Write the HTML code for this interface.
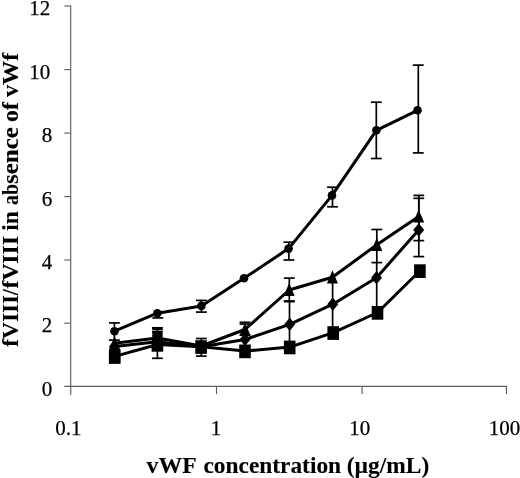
<!DOCTYPE html>
<html><head><meta charset="utf-8"><title>chart</title>
<style>html,body{margin:0;padding:0;background:#fff;overflow:hidden}svg{display:block}text{font-family:"Liberation Serif",serif;fill:#000}</style>
</head><body>
<svg width="520" height="478" viewBox="0 0 520 478">
<rect width="520" height="478" fill="#fff"/>
<defs><filter id="soft" x="0" y="0" width="520" height="478" filterUnits="userSpaceOnUse"><feGaussianBlur stdDeviation="0.35"/></filter></defs>
<g filter="url(#soft)">
<g stroke="#606060" stroke-width="1.15" fill="none">
<line x1="70.7" y1="5.4" x2="70.7" y2="395"/>
<line x1="64.3" y1="386.4" x2="507.1" y2="386.4"/>
<line x1="64.3" y1="6.0" x2="70.7" y2="6.0"/>
<line x1="64.3" y1="69.6" x2="70.7" y2="69.6"/>
<line x1="64.3" y1="133.1" x2="70.7" y2="133.1"/>
<line x1="64.3" y1="196.6" x2="70.7" y2="196.6"/>
<line x1="64.3" y1="260.0" x2="70.7" y2="260.0"/>
<line x1="64.3" y1="323.2" x2="70.7" y2="323.2"/>
<line x1="216.5" y1="386.4" x2="216.5" y2="394"/>
<line x1="362.1" y1="386.4" x2="362.1" y2="394"/>
<line x1="506.5" y1="386.4" x2="506.5" y2="394"/>
</g>
<g font-size="21" stroke="#000" stroke-width="0.25">
<text x="50.2" y="15.2" text-anchor="end">12</text>
<text x="50.2" y="78.8" text-anchor="end">10</text>
<text x="52.3" y="142.3" text-anchor="end">8</text>
<text x="52.3" y="205.8" text-anchor="end">6</text>
<text x="52.3" y="269.2" text-anchor="end">4</text>
<text x="52.3" y="332.4" text-anchor="end">2</text>
<text x="52.3" y="395.6" text-anchor="end">0</text>
<text x="68.4" y="435" text-anchor="middle">0.1</text>
<text x="216.0" y="435" text-anchor="middle">1</text>
<text x="359.7" y="435" text-anchor="middle">10</text>
<text x="504.6" y="435" text-anchor="middle">100</text>
</g>
<g font-size="22.3" font-weight="bold" stroke="#000" stroke-width="0.1">
<text x="146.5" y="473" textLength="50.16" lengthAdjust="spacingAndGlyphs">vWF</text>
<text x="203.45" y="473" textLength="137.64" lengthAdjust="spacingAndGlyphs">concentration</text>
<text x="346.73" y="473" textLength="82.57" lengthAdjust="spacingAndGlyphs">(µg/mL)</text>
</g>
<g font-size="22.3" font-weight="bold" stroke="#000" stroke-width="0.1" transform="translate(17.9,346.4) rotate(-90)">
<text x="-0.48" y="0" textLength="24.65" lengthAdjust="spacingAndGlyphs">fV</text>
<text x="24.29" y="0" textLength="27.27" lengthAdjust="spacingAndGlyphs">III</text>
<text x="51.23" y="0" textLength="6.1" lengthAdjust="spacingAndGlyphs">/</text>
<text x="57.92" y="0" textLength="24.96" lengthAdjust="spacingAndGlyphs">fV</text>
<text x="82.69" y="0" textLength="27.52" lengthAdjust="spacingAndGlyphs">III</text>
<text x="115.68" y="0" textLength="19.74" lengthAdjust="spacingAndGlyphs">in</text>
<text x="141.47" y="0" textLength="20.99" lengthAdjust="spacingAndGlyphs">ab</text>
<text x="162.35" y="0" textLength="56.96" lengthAdjust="spacingAndGlyphs">sence</text>
<text x="224.41" y="0" textLength="19.9" lengthAdjust="spacingAndGlyphs">of</text>
<text x="249.39" y="0" textLength="44.25" lengthAdjust="spacingAndGlyphs">vWf</text>
</g>
<g stroke="#000" stroke-width="1.7" fill="none">
<line x1="114.4" y1="322.9" x2="114.4" y2="340.1"/>
<line x1="109.0" y1="322.9" x2="119.8" y2="322.9"/>
<line x1="109.0" y1="340.1" x2="119.8" y2="340.1"/>
<line x1="157.8" y1="309.0" x2="157.8" y2="317.9"/>
<line x1="152.4" y1="317.9" x2="163.2" y2="317.9"/>
<line x1="201.4" y1="300.4" x2="201.4" y2="312.1"/>
<line x1="196.0" y1="300.4" x2="206.8" y2="300.4"/>
<line x1="196.0" y1="312.1" x2="206.8" y2="312.1"/>
<line x1="288.9" y1="242.2" x2="288.9" y2="260.0"/>
<line x1="283.5" y1="242.2" x2="294.3" y2="242.2"/>
<line x1="283.5" y1="260.0" x2="294.3" y2="260.0"/>
<line x1="332.5" y1="187.2" x2="332.5" y2="206.8"/>
<line x1="327.1" y1="187.2" x2="337.9" y2="187.2"/>
<line x1="327.1" y1="206.8" x2="337.9" y2="206.8"/>
<line x1="376.3" y1="102.2" x2="376.3" y2="158.5"/>
<line x1="370.9" y1="102.2" x2="381.7" y2="102.2"/>
<line x1="370.9" y1="158.5" x2="381.7" y2="158.5"/>
<line x1="418.3" y1="65.1" x2="418.3" y2="152.9"/>
<line x1="412.9" y1="65.1" x2="423.7" y2="65.1"/>
<line x1="412.9" y1="152.9" x2="423.7" y2="152.9"/>
<line x1="114.6" y1="340.1" x2="114.6" y2="362.0"/>
<line x1="157.4" y1="327.8" x2="157.4" y2="358.3"/>
<line x1="152.0" y1="327.8" x2="162.8" y2="327.8"/>
<line x1="152.0" y1="358.3" x2="162.8" y2="358.3"/>
<line x1="157.4" y1="331.5" x2="157.4" y2="350.0"/>
<line x1="152.0" y1="331.5" x2="162.8" y2="331.5"/>
<line x1="201.3" y1="338.5" x2="201.3" y2="356.1"/>
<line x1="195.9" y1="338.5" x2="206.7" y2="338.5"/>
<line x1="195.9" y1="356.1" x2="206.7" y2="356.1"/>
<line x1="245.0" y1="322.3" x2="245.0" y2="335.1"/>
<line x1="239.6" y1="322.3" x2="250.4" y2="322.3"/>
<line x1="239.6" y1="335.1" x2="250.4" y2="335.1"/>
<line x1="245.0" y1="324.1" x2="245.0" y2="350.0"/>
<line x1="239.6" y1="324.1" x2="250.4" y2="324.1"/>
<line x1="289.3" y1="278.1" x2="289.3" y2="301.3"/>
<line x1="283.9" y1="278.1" x2="294.7" y2="278.1"/>
<line x1="289.5" y1="301.7" x2="289.5" y2="347.0"/>
<line x1="332.6" y1="277.0" x2="332.6" y2="332.0"/>
<line x1="376.8" y1="229.5" x2="376.8" y2="262.6"/>
<line x1="371.4" y1="229.5" x2="382.2" y2="229.5"/>
<line x1="371.4" y1="262.6" x2="382.2" y2="262.6"/>
<line x1="376.7" y1="262.6" x2="376.7" y2="310.0"/>
<line x1="418.8" y1="195.4" x2="418.8" y2="240.6"/>
<line x1="413.4" y1="195.4" x2="424.2" y2="195.4"/>
<line x1="413.4" y1="240.6" x2="424.2" y2="240.6"/>
<line x1="418.8" y1="198.3" x2="418.8" y2="256.6"/>
<line x1="413.4" y1="198.3" x2="424.2" y2="198.3"/>
<line x1="413.4" y1="256.6" x2="424.2" y2="256.6"/>
</g>
<g stroke="#000" stroke-width="3.0" fill="none" stroke-linejoin="round">
<polyline points="114.5,331.2 157.3,313.2 201.4,305.9 244.0,278.3 288.6,248.6 332.0,195.4 376.4,130.3 417.5,110.3"/>
<polyline points="114.5,343.2 157.3,338.0 201.3,346.0 245.0,329.5 289.2,290.0 332.4,277.3 376.8,244.8 418.7,216.5"/>
<polyline points="114.5,346.6 157.3,341.8 201.3,346.7 245.0,339.5 289.7,324.3 332.8,304.2 376.5,277.7 418.7,229.9"/>
<polyline points="114.8,356.4 157.5,344.5 201.2,346.7 245.1,351.0 289.8,347.1 333.3,332.7 377.6,312.5 420.0,270.8"/>
</g>
<g fill="#000">
<circle cx="114.5" cy="331.2" r="4.3"/>
<circle cx="157.3" cy="313.2" r="4.3"/>
<circle cx="201.4" cy="305.9" r="4.3"/>
<circle cx="244.0" cy="278.3" r="4.3"/>
<circle cx="288.6" cy="248.6" r="4.3"/>
<circle cx="332.0" cy="195.4" r="4.3"/>
<circle cx="376.4" cy="130.3" r="4.3"/>
<circle cx="417.5" cy="110.3" r="4.3"/>
<polygon points="114.5,336.2 120.0,349.3 109.0,349.3"/>
<polygon points="157.3,331.0 162.8,344.1 151.8,344.1"/>
<polygon points="201.3,339.0 206.8,352.1 195.8,352.1"/>
<polygon points="245.0,322.5 250.5,335.6 239.5,335.6"/>
<polygon points="289.2,283.0 294.7,296.1 283.7,296.1"/>
<polygon points="332.4,270.3 337.9,283.4 326.9,283.4"/>
<polygon points="376.8,237.8 382.3,250.9 371.3,250.9"/>
<polygon points="418.7,209.5 424.2,222.6 413.2,222.6"/>
<polygon points="114.5,340.0 120.0,346.6 114.5,353.2 109.0,346.6"/>
<polygon points="157.3,335.2 162.8,341.8 157.3,348.4 151.8,341.8"/>
<polygon points="201.3,340.1 206.8,346.7 201.3,353.3 195.8,346.7"/>
<polygon points="245.0,332.9 250.5,339.5 245.0,346.1 239.5,339.5"/>
<polygon points="289.7,317.7 295.2,324.3 289.7,330.9 284.2,324.3"/>
<polygon points="332.8,297.6 338.3,304.2 332.8,310.8 327.3,304.2"/>
<polygon points="376.5,271.1 382.0,277.7 376.5,284.3 371.0,277.7"/>
<polygon points="418.7,223.3 424.2,229.9 418.7,236.5 413.2,229.9"/>
<rect x="108.9" y="349.9" width="11.6" height="13.7"/>
<rect x="151.6" y="338.0" width="11.6" height="13.7"/>
<rect x="195.3" y="340.2" width="11.6" height="13.7"/>
<rect x="239.2" y="344.5" width="11.6" height="13.7"/>
<rect x="283.9" y="340.6" width="11.6" height="13.7"/>
<rect x="327.4" y="326.2" width="11.6" height="13.7"/>
<rect x="371.7" y="306.0" width="11.6" height="13.7"/>
<rect x="414.1" y="264.3" width="11.6" height="13.7"/>
<rect x="109.1" y="349.1" width="11.2" height="14.6"/>
<rect x="152.3" y="331.9" width="10.3" height="17.8"/>
<rect x="152.3" y="327.2" width="10.3" height="2.9"/>
<rect x="283.8" y="300.1" width="11.0" height="2.4"/>
</g>
</g>
</svg></body></html>
